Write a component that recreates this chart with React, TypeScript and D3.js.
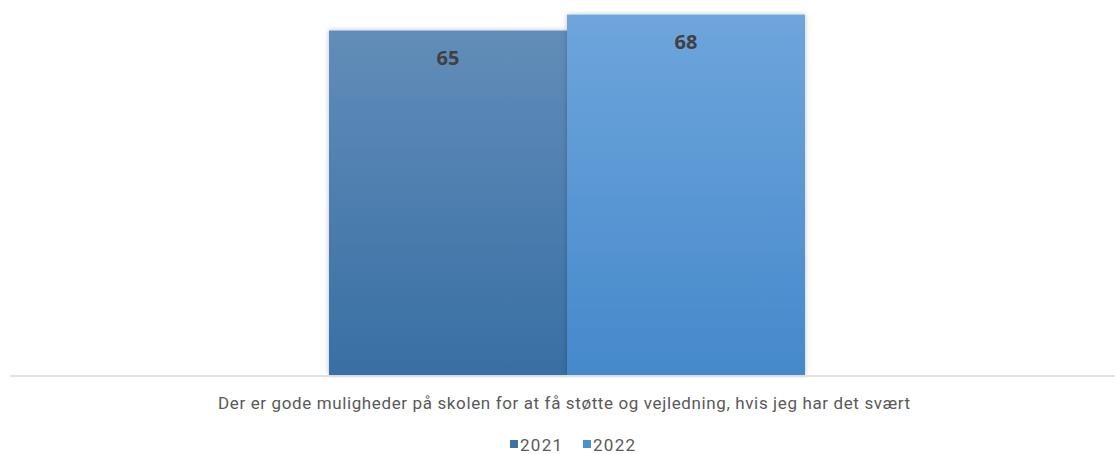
import React from 'react';
import * as d3 from 'd3';

const categories = ['Der er gode muligheder på skolen for at få støtte og vejledning, hvis jeg har det svært'];
const years = ['2021', '2022'];
const values2021 = [65];
const values2022 = [68];

const W = 1115;
const H = 454;

const topColors = ['#628db9', '#6ea5dc'];
const bottomColors = ['#386fa4', '#4589cb'];
const legendColors = ['#3d72a8', '#4a8fd3'];

export default function App() {
  const margin = { top: 4, right: 0, bottom: 79, left: 10 };
  const baseY = H - margin.bottom;

  const x0 = d3.scaleBand<string>()
    .domain(categories)
    .range([margin.left, 1124])
    .paddingInner(0)
    .paddingOuter(0.67);

  const x1 = d3.scaleBand<string>()
    .domain(years)
    .range([0, x0.bandwidth()])
    .padding(0);

  const y = d3.scaleLinear()
    .domain([0, 70])
    .range([baseY, margin.top]);

  const series = [values2021, values2022];

  const bars = categories.flatMap((c, ci) =>
    years.map((yr, si) => {
      const v = series[si][ci];
      const bx = (x0(c) as number) + (x1(yr) as number);
      const by = y(v);
      return (
        <g key={c + yr}>
          <rect x={bx} y={by} width={x1.bandwidth()} height={baseY - by}
                fill={'url(#grad' + si + ')'} filter="url(#shadow)" />
          <text x={bx + x1.bandwidth() / 2} y={by + 34} textAnchor="middle"
                fontFamily="'Open Sans', 'DejaVu Sans', sans-serif" fontWeight="bold"
                fontSize="20" fill="#404040">{v}</text>
        </g>
      );
    })
  );

  const legendX = [510, 583];

  return (
    <div style={{ position: 'absolute', left: 0, top: 0 }}>
      <svg width={W} height={H} style={{ display: 'block', background: '#fff' }}>
        <defs>
          {years.map((yr, i) => (
            <linearGradient key={yr} id={'grad' + i} x1="0" y1="0" x2="0" y2="1">
              <stop offset="0%" stopColor={topColors[i]} />
              <stop offset="100%" stopColor={bottomColors[i]} />
            </linearGradient>
          ))}
          <filter id="shadow" x="-5%" y="-5%" width="110%" height="110%">
            <feDropShadow dx="0" dy="0" stdDeviation="2.5" floodColor="#000" floodOpacity="0.25" />
          </filter>
        </defs>
        {bars}
        <line x1={margin.left} x2={W} y1={baseY + 1} y2={baseY + 1} stroke="#d9d9d9" strokeWidth="1.5" />
        {categories.map(c => (
          <text key={c} x={218} y={409} textLength={692} lengthAdjust="spacing"
                fontFamily="Roboto, sans-serif" fontSize="17" fill="#595959">{c}</text>
        ))}
        {years.map((yr, i) => (
          <g key={yr} transform={`translate(${legendX[i]},0)`}>
            <rect x={0} y={440} width={8} height={8} fill={legendColors[i]} />
            <text x={10} y={451} textLength={42} lengthAdjust="spacing"
                  fontFamily="Roboto, sans-serif" fontSize="17" fill="#595959">{yr}</text>
          </g>
        ))}
      </svg>
    </div>
  );
}
